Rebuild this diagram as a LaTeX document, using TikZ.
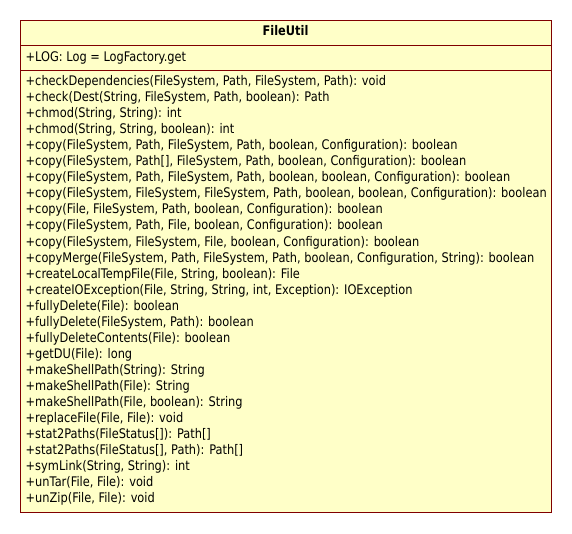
\documentclass[tikz,border=0pt]{standalone}
\usepackage{fontspec}
\setmainfont{DejaVu Sans}[FakeStretch=0.86]
\definecolor{umlfill}{HTML}{FFFFC8}
\definecolor{umlline}{HTML}{800000}
\newlength\longw
\begin{document}
\settowidth\longw{\fontsize{10}{12}\selectfont +copy(FileSystem, FileSystem, FileSystem, Path, boolean, boolean, Configuration): boolean}%
\pgfmathsetmacro\fs{10*521/\longw}%
\begin{tikzpicture}[x=1pt,y=-1pt]
\tikzset{
  member/.style={anchor=base west, inner sep=0pt, font=\fontsize{\fs}{\fs}\selectfont},
  titletext/.style={anchor=base, inner sep=0pt, font=\fontsize{\fs}{\fs}\selectfont\bfseries},
  classbox/.style={draw=umlline, fill=umlfill, line width=1pt, anchor=north west, inner sep=0pt, minimum width=531pt, minimum height=492pt},
  sep/.style={draw=umlline, line width=1pt}
}
\useasboundingbox (0,0) rectangle (572,533);
\node[classbox] (cls) at (20,20) {};
\coordinate (s1l) at (20,45.5); \coordinate (s1r) at (551,45.5);
\coordinate (s2l) at (20,70.5); \coordinate (s2r) at (551,70.5);
\draw[sep] (s1l) -- (s1r);
\draw[sep] (s2l) -- (s2r);
\node[titletext] (title) at (285.5,35.7) {FileUtil};
\node[member] (attr) at (25.5,61) {+LOG: Log = LogFactory.get};
\foreach [count=\i from 0] \t in {
 {+checkDependencies(FileSystem, Path, FileSystem, Path): void},
 {+check(Dest(String, FileSystem, Path, boolean): Path},
 {+chmod(String, String): int},
 {+chmod(String, String, boolean): int},
 {+copy(FileSystem, Path, FileSystem, Path, boolean, Configuration): boolean},
 {+copy(FileSystem, Path[], FileSystem, Path, boolean, Configuration): boolean},
 {+copy(FileSystem, Path, FileSystem, Path, boolean, boolean, Configuration): boolean},
 {+copy(FileSystem, FileSystem, FileSystem, Path, boolean, boolean, Configuration): boolean},
 {+copy(File, FileSystem, Path, boolean, Configuration): boolean},
 {+copy(FileSystem, Path, File, boolean, Configuration): boolean},
 {+copy(FileSystem, FileSystem, File, boolean, Configuration): boolean},
 {+copyMerge(FileSystem, Path, FileSystem, Path, boolean, Configuration, String): boolean},
 {+createLocalTempFile(File, String, boolean): File},
 {+createIOException(File, String, String, int, Exception): IOException},
 {+fullyDelete(File): boolean},
 {+fullyDelete(FileSystem, Path): boolean},
 {+fullyDeleteContents(File): boolean},
 {+getDU(File): long},
 {+makeShellPath(String): String},
 {+makeShellPath(File): String},
 {+makeShellPath(File, boolean): String},
 {+replaceFile(File, File): void},
 {+stat2Paths(FileStatus[]): Path[]},
 {+stat2Paths(FileStatus[], Path): Path[]},
 {+symLink(String, String): int},
 {+unTar(File, File): void},
 {+unZip(File, File): void}}
 \node[member] (m\i) at (25.5,85.6+16.04*\i) {\t};
\end{tikzpicture}
\end{document}
